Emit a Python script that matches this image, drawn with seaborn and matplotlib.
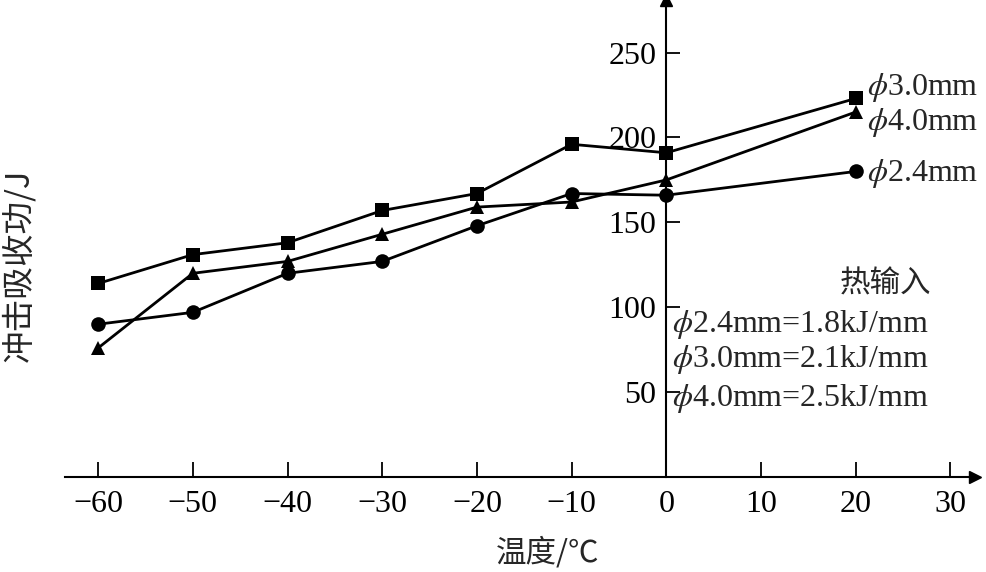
import matplotlib
matplotlib.use("Agg")
import matplotlib.pyplot as plt
import seaborn as sns
import pandas as pd

# ---- data ----
temps = [-60, -50, -40, -30, -20, -10, 0, 20]
e_24 = [90, 97, 120, 127, 148, 167, 166, 180]      # phi 2.4 mm, circles
e_30 = [114, 131, 138, 157, 167, 196, 191, 223]    # phi 3.0 mm, squares
e_40 = [76, 120, 127, 143, 159, 162, 175, 215]     # phi 4.0 mm, triangles
series_names = ["2.4", "3.0", "4.0"]
x_ticks = [-60, -50, -40, -30, -20, -10, 0, 10, 20, 30]
y_ticks = [50, 100, 150, 200, 250]
heat_lines = [r"$\phi$2.4mm=1.8kJ/mm", r"$\phi$3.0mm=2.1kJ/mm", r"$\phi$4.0mm=2.5kJ/mm"]
end_labels = [r"$\phi$3.0mm", r"$\phi$4.0mm", r"$\phi$2.4mm"]

df = pd.DataFrame({
    "温度": temps * 3,
    "能量": e_24 + e_30 + e_40,
    "系列": [n for n, v in zip(series_names, [e_24, e_30, e_40]) for _ in v],
})

sns.set_theme(style="white")
plt.rcParams["font.family"] = ["Liberation Serif", "Noto Sans CJK SC", "DejaVu Sans"]
plt.rcParams["mathtext.fontset"] = "stix"
plt.rcParams["axes.unicode_minus"] = True

fig = plt.figure(figsize=(9.86, 5.72), dpi=100)
ax = fig.add_axes([65 / 986, (572 - 477) / 572, 910 / 986, 477 / 572])

sns.lineplot(data=df, x="温度", y="能量", hue="系列", style="系列",
             palette={"2.4": "black", "3.0": "black", "4.0": "black"},
             markers={"2.4": "o", "3.0": "s", "4.0": "^"},
             dashes=False, linewidth=2.0, markersize=10.5, markeredgewidth=0,
             legend=False, ax=ax)

ax.set_xlim(-63.5, 32.6)
ax.set_ylim(0, 281)

for s in ["top", "right"]:
    ax.spines[s].set_visible(False)
ax.spines["left"].set_position(("data", 0))
ax.spines["left"].set_linewidth(1.5)
ax.spines["bottom"].set_linewidth(1.5)
ax.spines["left"].set_color("black")
ax.spines["bottom"].set_color("black")

ax.set_xticks(x_ticks)
ax.set_yticks(y_ticks)
ax.tick_params(axis="x", direction="in", length=11, width=1.3, pad=9,
               labelsize=23, colors="black")
ax.tick_params(axis="y", direction="in", length=10, width=1.3, pad=7,
               labelsize=23, colors="black")
ax.xaxis.set_ticks_position("bottom")
ax.yaxis.set_ticks_position("left")

# axis arrows
ax.plot(1, 0, marker=">", color="black", markersize=8,
        transform=ax.get_yaxis_transform(), clip_on=False)
ax.plot(0, 1, marker="^", color="black", markersize=8,
        transform=ax.get_xaxis_transform(), clip_on=False)

# labels
ax.set_xlabel("温度/℃", fontsize=22, family=["Noto Sans CJK SC", "DejaVu Sans"])
ax.xaxis.set_label_coords((548 - 65) / 910, (477 - 553) / 477)
ax.xaxis.label.set_va("center")
ax.set_ylabel("冲击吸收功/J", fontsize=23.5, family=["Noto Sans CJK SC", "DejaVu Sans"])
ax.yaxis.set_label_coords((18 - 65) / 910, (477 - 265) / 477)
ax.yaxis.label.set_va("center")

# end labels
for txt, yv in zip(end_labels, [229.5, 209.0, 178.5]):
    ax.text(21.2, yv, txt, fontsize=23, va="center", ha="left")

# heat input note
ax.text(28.0, 113.5, "热输入", fontsize=22, va="center", ha="right",
        family=["Noto Sans CJK SC", "DejaVu Sans"])
for txt, yv in zip(heat_lines, [90.0, 69.5, 46.0]):
    ax.text(0.6, yv, txt, fontsize=23, va="center", ha="left")

fig.savefig("out.png", dpi=100)
